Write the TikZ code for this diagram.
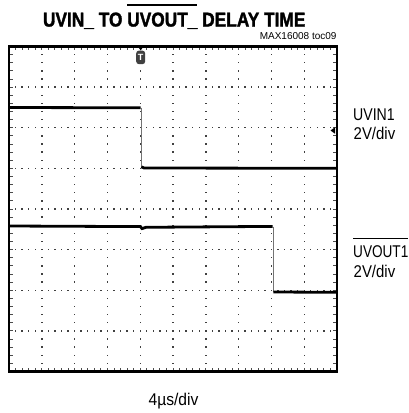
\documentclass[tikz,border=0pt]{standalone}
\usepackage{fontspec}
\setmainfont{Liberation Sans}
\newfontfamily\titlefont[FakeStretch=0.865,FakeBold=1.6]{Liberation Sans}
\newfontfamily\labfont{Liberation Sans}
\newcommand\labsize{\fontsize{17}{20}\selectfont}
\newcommand\myovl[3]{\vbox{\hrule height #1\kern #2\hbox{#3}}}
\begin{document}
\begin{tikzpicture}[x=1pt,y=-1pt,
  trace/.style={line width=2.8pt, black},
  edgeline/.style={line width=0.9pt, black!55},
  gdot/.style={fill=black!75},
  tickmark/.style={line width=0.9pt, black!70},
  lab/.style={inner sep=0pt, anchor=base west, font=\labfont\labsize}]
\useasboundingbox (0,0) rectangle (408,413);
% grid dots on vertical gridlines
\foreach \k in {1,...,9}{
  \foreach \j in {1,...,39}{
    \fill[gdot] ({9+32.8*\k-0.7},{46.5+8.125*\j-0.7}) rectangle ++(1.4,1.4);
  }
}
% grid dots on horizontal gridlines
\foreach \m in {1,...,7}{
  \foreach \i in {1,...,49}{
    \fill[gdot] ({9+6.56*\i-0.7},{46.5+40.625*\m-0.7}) rectangle ++(1.4,1.4);
  }
}
% edge ticks
\foreach \i in {1,...,49}{
  \draw[tickmark] ({9+6.56*\i},46.5) -- ++(0,3.8);
  \draw[tickmark] ({9+6.56*\i},371.5) -- ++(0,-3.8);
}
\foreach \j in {1,...,39}{
  \draw[tickmark] (9,{46.5+8.125*\j}) -- ++(3.8,0);
  \draw[tickmark] (337,{46.5+8.125*\j}) -- ++(-3.8,0);
}
% UVIN1 trace
\draw[edgeline] (141,107.5) -- (141,168);
\draw[trace] (9,107.5) -- (140.6,107.8);
\draw[trace] (141.4,166.8) -- (144,168) -- (337,168.3);
% UVOUT1 trace
\draw[edgeline] (273,226.5) -- (273,292);
\draw[trace] (9,226) -- (140.5,226.6) -- (142,228.6) -- (146,227.3) -- (272.6,226.4);
\draw[trace] (273.4,292) -- (337,292.3);
% frame
\draw[line width=2.6pt] (9,46.5) rectangle (337,371.5);
% trigger marker
\fill[black] (138.3,47) -- (143.1,47) -- (140.7,50.5) -- cycle;
\fill[black!75, rounded corners=2.8pt] (136.2,50.6) rectangle (145.2,64.2);
\node[inner sep=0pt, text=white, font=\bfseries\fontsize{9}{9}\selectfont] (tmark) at (140.7,57.8) {T};
% level marker on right edge
\fill[black] (330.5,130.5) -- (335,127.3) -- (335,133.7) -- cycle;
% title
\node[anchor=base, inner sep=0pt] (title) at (174.2,26.5)
  {\titlefont\bfseries\fontsize{20}{24}\selectfont UVIN\_ TO \myovl{1.6pt}{7pt}{UVOUT\_} DELAY TIME};
\node[anchor=base east, inner sep=0pt, font=\fontsize{10}{12}\selectfont] (toc) at (336.7,39.3) {MAX16008 toc09};
% labels
\node[lab] (uvin) at (353,120.7) {\scalebox{0.83}[1]{UVIN1}};
\node[lab] (uvindiv) at (353.5,139.3) {\scalebox{0.88}[1]{2V/div}};
\node[lab] (uvout) at (353,257.7) {\scalebox{0.80}[1]{\myovl{1.1pt}{6.5pt}{UVOUT1}}};
\node[lab] (uvoutdiv) at (353.5,277.7) {\scalebox{0.88}[1]{2V/div}};
\node[anchor=base, inner sep=0pt, font=\labfont\labsize] (tdiv) at (173.5,405) {\scalebox{0.92}[1]{4µs/div}};
\end{tikzpicture}
\end{document}
